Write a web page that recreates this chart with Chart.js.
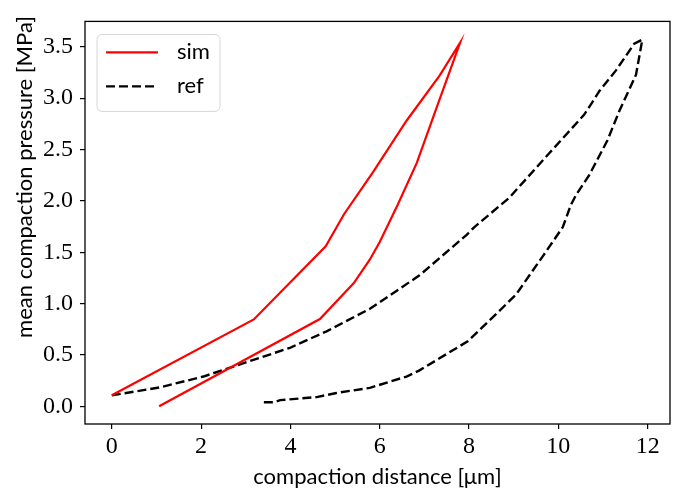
<!DOCTYPE html>
<html><head><meta charset="utf-8">
<script src="https://cdn.jsdelivr.net/npm/chart.js@4"></script>
<style>html,body{margin:0;padding:0;background:#fff}#wrap{width:676px;height:490px}</style>
</head><body><div id="wrap"><canvas id="c" width="676" height="490"></canvas></div>
<script>
const seriesLabels = ['sim', 'ref'];
const simX = [0, 3.18, 4.79, 5.2, 5.85, 6.60, 7.34, 7.80, 7.30, 6.83, 6.40, 6.0, 5.78, 5.42, 4.66, 1.06];
const simY = [0.107, 0.846, 1.557, 1.87, 2.28, 2.78, 3.22, 3.54, 2.94, 2.37, 1.96, 1.6, 1.43, 1.2, 0.85, 0.0];
const refX = [0, 1.08, 2.05, 3.02, 3.99, 4.81, 5.78, 6.89, 7.94, 8.12, 8.9, 9.8, 10.58, 10.73, 10.92, 11.29, 11.70, 11.88,
              11.74, 11.70, 11.36, 11.10, 10.69, 10.40, 10.28, 10.10, 9.65, 9.05, 8.61, 7.97, 6.89, 6.6, 5.78, 5.03, 4.59, 3.77, 3.65, 3.32];
const refY = [0.107, 0.185, 0.29, 0.43, 0.57, 0.73, 0.95, 1.275, 1.667, 1.745, 2.03, 2.466, 2.84, 2.94, 3.07, 3.27, 3.53, 3.57,
              3.23, 3.19, 2.87, 2.59, 2.25, 2.06, 1.96, 1.745, 1.46, 1.087, 0.90, 0.633, 0.35, 0.29, 0.18, 0.13, 0.09, 0.06, 0.04, 0.04];
const xTicks = [0, 2, 4, 6, 8, 10, 12];
const yTicks = [0, 0.5, 1.0, 1.5, 2.0, 2.5, 3.0, 3.5];
const xTitle = 'compaction distance [μm]';
const yTitle = 'mean compaction pressure [MPa]';

const toPts = (xs, ys) => xs.map((x, i) => ({x: x, y: ys[i]}));

const framePlugin = {
  id: 'frame',
  afterDraw(chart) {
    const ctx = chart.ctx, a = chart.chartArea;
    ctx.save();
    ctx.strokeStyle = '#000';
    ctx.lineWidth = 1.3;
    ctx.strokeRect(a.left, a.top, a.right - a.left, a.bottom - a.top);
    // y title
    ctx.save();
    ctx.translate(25, 177);
    ctx.rotate(-Math.PI / 2);
    ctx.fillStyle = '#000';
    ctx.font = '22px Lato';
    ctx.textAlign = 'center';
    ctx.textBaseline = 'middle';
    ctx.fillText(yTitle, 0, 0);
    ctx.restore();
    // legend
    const lx = a.left + 12, ly = a.top + 13, lw = 123, lh = 77, r = 5;
    ctx.beginPath();
    ctx.moveTo(lx + r, ly);
    ctx.arcTo(lx + lw, ly, lx + lw, ly + lh, r);
    ctx.arcTo(lx + lw, ly + lh, lx, ly + lh, r);
    ctx.arcTo(lx, ly + lh, lx, ly, r);
    ctx.arcTo(lx, ly, lx + lw, ly, r);
    ctx.closePath();
    ctx.fillStyle = 'rgba(255,255,255,0.8)';
    ctx.fill();
    ctx.strokeStyle = '#d6d6d6';
    ctx.lineWidth = 1;
    ctx.stroke();
    chart.data.datasets.forEach((ds, i) => {
      const y = ly + 18 + i * 34;
      ctx.beginPath();
      ctx.setLineDash(ds.borderDash || []);
      ctx.strokeStyle = ds.borderColor;
      ctx.lineWidth = ds.borderWidth;
      ctx.moveTo(lx + 9, y);
      ctx.lineTo(lx + 61, y);
      ctx.stroke();
      ctx.setLineDash([]);
      ctx.fillStyle = '#000';
      ctx.font = '22px Lato';
      ctx.textBaseline = 'middle';
      ctx.textAlign = 'left';
      ctx.fillText(ds.label, lx + 80, y);
    });
    ctx.restore();
  }
};

new Chart(document.getElementById('c'), {
  type: 'line',
  data: {
    datasets: [
      {label: seriesLabels[0], data: toPts(simX, simY), borderColor: '#ff0000', borderWidth: 2.2, pointRadius: 0, tension: 0, fill: false},
      {label: seriesLabels[1], data: toPts(refX, refY), borderColor: '#000000', borderWidth: 2.4, borderDash: [9, 4], pointRadius: 0, tension: 0, fill: false}
    ]
  },
  options: {
    responsive: false,
    animation: false,
    devicePixelRatio: 1,
    layout: {padding: {top: 7, right: 6, left: 0, bottom: 0}},
    plugins: {legend: {display: false}, tooltip: {enabled: false}},
    scales: {
      x: {
        type: 'linear', min: -0.6, max: 12.5,
        afterBuildTicks: s => { s.ticks = xTicks.map(v => ({value: v})); },
        afterFit: s => { s.height = 66; },
        grid: {drawOnChartArea: false, color: '#000', tickLength: 5, lineWidth: 1.2},
        border: {display: false},
        ticks: {font: {family: 'Liberation Serif', size: 24}, color: '#000', padding: 3, maxRotation: 0, callback: v => String(v)},
        title: {display: true, text: xTitle, font: {family: 'Lato', size: 22}, color: '#000', padding: {top: 0, bottom: 0}}
      },
      y: {
        type: 'linear', min: -0.172, max: 3.747,
        afterBuildTicks: s => { s.ticks = yTicks.map(v => ({value: v})); },
        afterFit: s => { s.width = 85; },
        grid: {drawOnChartArea: false, color: '#000', tickLength: 5, lineWidth: 1.2},
        border: {display: false},
        ticks: {font: {family: 'Liberation Serif', size: 24}, color: '#000', padding: 7, callback: v => v.toFixed(1)},
        title: {display: false}
      }
    }
  },
  plugins: [framePlugin]
});
</script></body></html>
